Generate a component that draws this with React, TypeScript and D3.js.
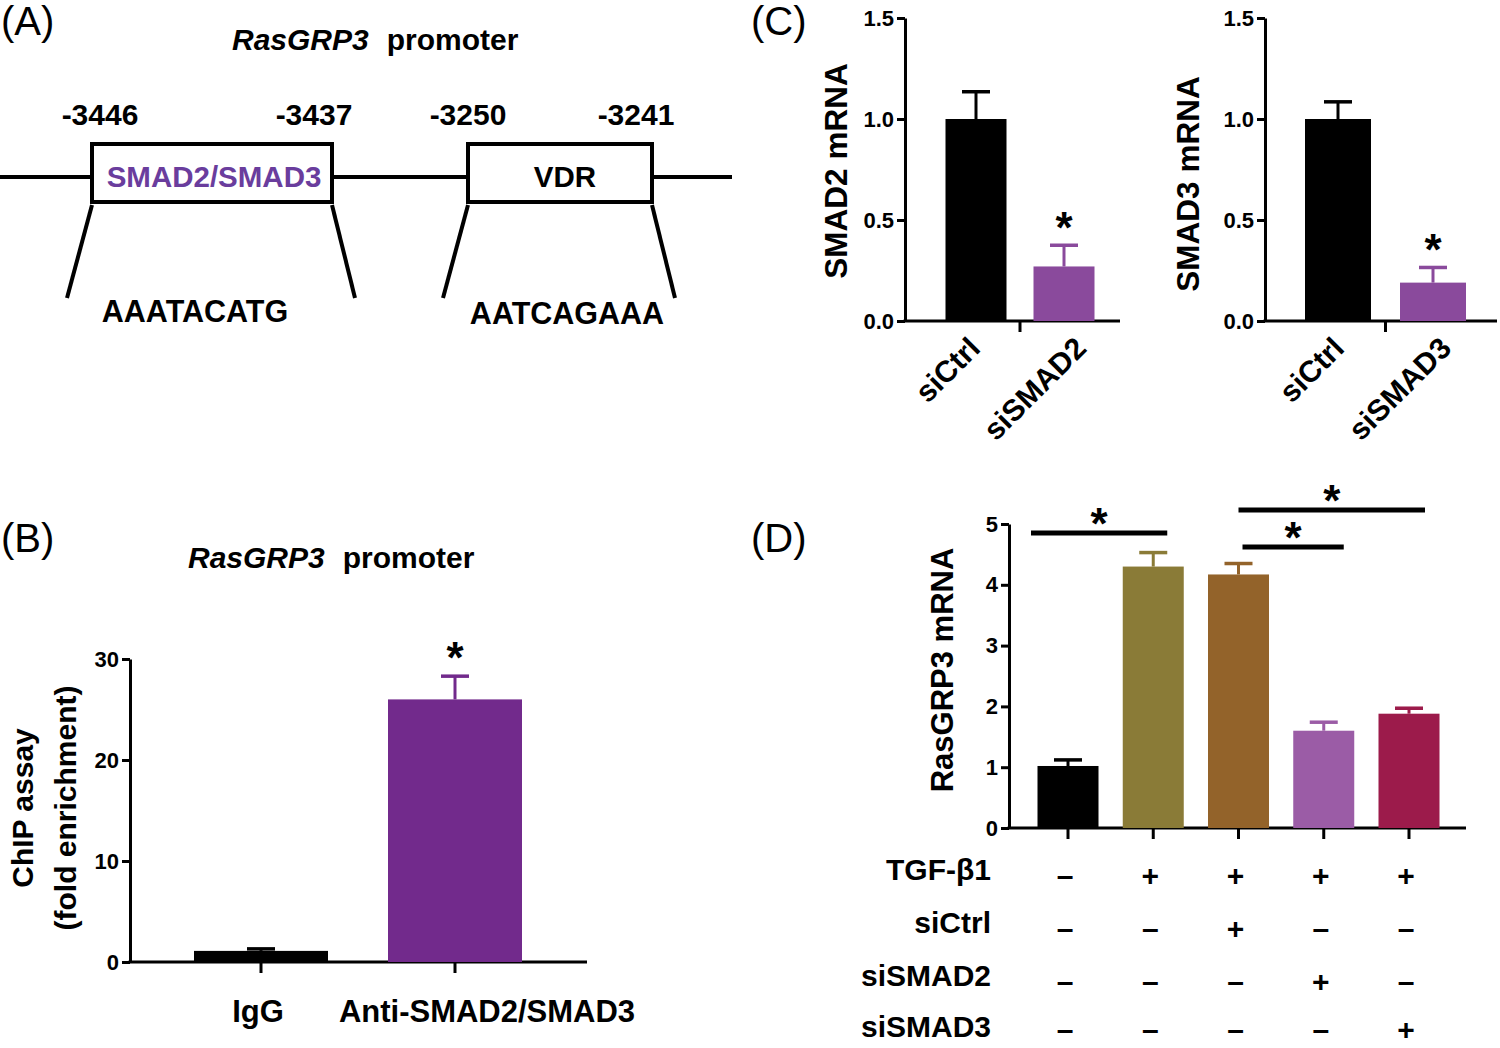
import { useEffect, useRef } from 'react'
import * as d3 from 'd3'

const FONT = "'Liberation Sans', Arial, Helvetica, sans-serif"

// (A) promoter map
const siteNames = ['SMAD2/SMAD3', 'VDR']
const siteStarts = ['-3446', '-3250']
const siteEnds = ['-3437', '-3241']
const siteSeqs = ['AAATACATG', 'AATCAGAAA']

// (B) ChIP assay
const chipCategories = ['IgG', 'Anti-SMAD2/SMAD3']
const chipValues = [1.1, 26.0]
const chipErrors = [0.2, 2.3]
const chipTicks = [0, 10, 20, 30]

// (C) knockdown efficiency
const smad2Categories = ['siCtrl', 'siSMAD2']
const smad2Values = [1.0, 0.27]
const smad2Errors = [0.135, 0.105]
const smad3Categories = ['siCtrl', 'siSMAD3']
const smad3Values = [1.0, 0.19]
const smad3Errors = [0.085, 0.075]
const knockdownTicks = [0, 0.5, 1.0, 1.5]

// (D) RasGRP3 expression
const rasGroups = ['ctrl', 'tgf', 'tgf_sictrl', 'tgf_sismad2', 'tgf_sismad3']
const rasValues = [1.02, 4.3, 4.17, 1.6, 1.88]
const rasErrors = [0.1, 0.23, 0.18, 0.14, 0.09]
const rasTicks = [0, 1, 2, 3, 4, 5]
const treatmentRows = ['TGF-β1', 'siCtrl', 'siSMAD2', 'siSMAD3']
const treatmentSigns = [
  ['–', '+', '+', '+', '+'],
  ['–', '–', '+', '–', '–'],
  ['–', '–', '–', '+', '–'],
  ['–', '–', '–', '–', '+'],
]
// significance brackets: [from bar, to bar, height]
const rasComparisons: [number, number, number][] = [
  [0, 1, 4.85],
  [2, 4, 5.23],
  [2, 3, 4.62],
]

type Sel = d3.Selection<any, unknown, null, undefined>

function label(g: Sel, x: number, y: number, s: string, size: number, anchor = 'middle', weight = 'bold') {
  return g.append('text')
    .attr('x', x).attr('y', y)
    .attr('font-family', FONT)
    .attr('font-size', size)
    .attr('font-weight', weight)
    .attr('text-anchor', anchor)
    .attr('fill', '#000')
    .text(s)
}

interface BarCfg {
  cats: string[]
  values: number[]
  errors: number[]
  colors: string[]
  centers: [number, number]
  barW: number
  yMax: number
  yRange: [number, number]
  ticks: number[]
  fmt: (d: number) => string
  axisX: number
  axisEnd: number
  midTick?: boolean
}

function barPanel(g: Sel, c: BarCfg) {
  const x = d3.scalePoint<string>().domain(c.cats).range(c.centers)
  const y = d3.scaleLinear().domain([0, c.yMax]).range(c.yRange)

  const ax = g.append('g')
    .attr('transform', `translate(${c.axisX},0)`)
    .call(d3.axisLeft(y).tickValues(c.ticks).tickFormat(d => c.fmt(+d)).tickSize(8).tickSizeOuter(0).tickPadding(3))
  ax.attr('font-family', FONT).attr('font-size', 22).attr('font-weight', 'bold')
  ax.select('.domain').attr('stroke-width', 3).attr('stroke', '#000')
  ax.selectAll('.tick line').attr('stroke-width', 3).attr('stroke', '#000')
  ax.selectAll('.tick text').attr('fill', '#000')

  const y0 = y(0)
  g.append('line')
    .attr('x1', c.axisX - 1.5).attr('x2', c.axisEnd)
    .attr('y1', y0).attr('y2', y0)
    .attr('stroke', '#000').attr('stroke-width', 3)

  const tickXs = c.midTick ? [d3.mean(c.cats, d => x(d)!)!] : c.cats.map(d => x(d)!)
  tickXs.forEach(tx => {
    g.append('line')
      .attr('x1', tx).attr('x2', tx)
      .attr('y1', y0).attr('y2', y0 + 11)
      .attr('stroke', '#000').attr('stroke-width', 3)
  })

  c.cats.forEach((cat, i) => {
    const cx = x(cat)!
    const v = c.values[i]
    const top = y(v + c.errors[i])
    g.append('line')
      .attr('x1', cx).attr('x2', cx)
      .attr('y1', y(v)).attr('y2', top)
      .attr('stroke', c.colors[i]).attr('stroke-width', 3)
    g.append('line')
      .attr('x1', cx - 14).attr('x2', cx + 14)
      .attr('y1', top).attr('y2', top)
      .attr('stroke', c.colors[i]).attr('stroke-width', 3.5)
    g.append('rect')
      .attr('x', cx - c.barW / 2).attr('y', y(v))
      .attr('width', c.barW).attr('height', y0 - y(v))
      .attr('fill', c.colors[i])
  })
  return { x, y }
}

function star(g: Sel, x: number, yCenter: number) {
  label(g, x, yCenter + 25, '*', 44)
}

function rotatedLabel(g: Sel, x: number, y: number, lines: string[], size: number, gap = 43) {
  lines.forEach((s, i) => {
    g.append('text')
      .attr('transform', `translate(${x + i * gap},${y}) rotate(-90)`)
      .attr('font-family', FONT)
      .attr('font-size', size)
      .attr('font-weight', 'bold')
      .attr('text-anchor', 'middle')
      .attr('fill', '#000')
      .text(s)
  })
}

function promoterTitle(g: Sel, x: number, y: number) {
  const t = g.append('text')
    .attr('x', x).attr('y', y)
    .attr('font-family', FONT).attr('font-size', 30).attr('font-weight', 'bold')
  t.append('tspan').attr('font-style', 'italic').text('RasGRP3')
  t.append('tspan').attr('dx', 18).text('promoter')
}

export default function App() {
  const svgRef = useRef<SVGSVGElement>(null)

  useEffect(() => {
    if (!svgRef.current) return
    const svg = d3.select(svgRef.current)
    svg.selectAll('*').remove()
    const root = svg.append('g') as Sel

    // panel letters
    label(root, 1, 35, '(A)', 40, 'start', 'normal')
    label(root, 1, 552, '(B)', 40, 'start', 'normal')
    label(root, 751, 35, '(C)', 40, 'start', 'normal')
    label(root, 751, 552, '(D)', 40, 'start', 'normal')

    // ---------- (A) ----------
    const a = root.append('g') as Sel
    promoterTitle(a, 232, 50)
    a.append('line')
      .attr('x1', 0).attr('x2', 732).attr('y1', 177).attr('y2', 177)
      .attr('stroke', '#000').attr('stroke-width', 4)
    const boxX = [92, 468]
    const boxW = [240, 184]
    const startX = [100, 468]
    const endX = [314, 636]
    const seqX = [195, 567]
    siteNames.forEach((name, i) => {
      const l = boxX[i]
      const r = boxX[i] + boxW[i]
      a.append('rect')
        .attr('x', l).attr('y', 144).attr('width', boxW[i]).attr('height', 58)
        .attr('fill', '#fff').attr('stroke', '#000').attr('stroke-width', 4)
      label(a, i === 0 ? (l + r) / 2 + 2 : (l + r) / 2 + 5, 187, name, 29.5)
        .attr('fill', i === 0 ? '#6a3d9d' : '#000')
      label(a, startX[i], 125, siteStarts[i], 30)
      label(a, endX[i], 125, siteEnds[i], 30)
      a.append('line')
        .attr('x1', l).attr('y1', 205).attr('x2', l - 25).attr('y2', 298)
        .attr('stroke', '#000').attr('stroke-width', 4)
      a.append('line')
        .attr('x1', r).attr('y1', 205).attr('x2', r + 23).attr('y2', 298)
        .attr('stroke', '#000').attr('stroke-width', 4)
      label(a, seqX[i], 322 + i * 2, siteSeqs[i], 30.5)
    })

    // ---------- (B) ----------
    const b = root.append('g') as Sel
    promoterTitle(b, 188, 568)
    const bs = barPanel(b, {
      cats: chipCategories,
      values: chipValues,
      errors: chipErrors,
      colors: ['#000000', '#722a8c'],
      centers: [261, 455],
      barW: 134,
      yMax: 30,
      yRange: [962, 659],
      ticks: chipTicks,
      fmt: d => d3.format('d')(d),
      axisX: 130,
      axisEnd: 587,
    })
    const chipLabelShift = [-3, 32]
    chipCategories.forEach((c, i) => label(b, bs.x(c)! + chipLabelShift[i], 1022, c, 31))
    star(b, bs.x(chipCategories[1])!, bs.y(chipValues[1] + chipErrors[1]) - 28)
    rotatedLabel(b, 33, 808, ['ChIP assay', '(fold enrichment)'], 30)

    // ---------- (C) ----------
    const c = root.append('g') as Sel
    const knockdownPanels = [
      { cats: smad2Categories, values: smad2Values, errors: smad2Errors, centers: [976, 1064] as [number, number], barW: 61, axisX: 905, axisEnd: 1120, title: 'SMAD2 mRNA', titleX: 847, titleY: 171, shift: [6, 24] },
      { cats: smad3Categories, values: smad3Values, errors: smad3Errors, centers: [1338, 1433] as [number, number], barW: 66, axisX: 1265, axisEnd: 1497, title: 'SMAD3 mRNA', titleX: 1199, titleY: 184, shift: [8, 20] },
    ]
    knockdownPanels.forEach(p => {
      const s = barPanel(c, {
        cats: p.cats,
        values: p.values,
        errors: p.errors,
        colors: ['#000000', '#8a4a9c'],
        centers: p.centers,
        barW: p.barW,
        yMax: 1.5,
        yRange: [321, 18],
        ticks: knockdownTicks,
        fmt: d => d3.format('.1f')(d),
        axisX: p.axisX,
        axisEnd: p.axisEnd,
        midTick: true,
      })
      p.cats.forEach((cat, i) => {
        c.append('text')
          .attr('transform', `translate(${s.x(cat)! + p.shift[i]},${350}) rotate(-45)`)
          .attr('font-family', FONT).attr('font-size', 30).attr('font-weight', 'bold')
          .attr('text-anchor', 'end').attr('fill', '#000')
          .text(cat)
      })
      star(c, s.x(p.cats[1])!, s.y(p.values[1] + p.errors[1]) - 27)
      rotatedLabel(c, p.titleX, p.titleY, [p.title], 31.5)
    })

    // ---------- (D) ----------
    const d = root.append('g') as Sel
    const ds = barPanel(d, {
      cats: rasGroups,
      values: rasValues,
      errors: rasErrors,
      colors: ['#000000', '#8a7b37', '#93632a', '#9b5ca6', '#9c1b4b'],
      centers: [1068, 1409],
      barW: 61,
      yMax: 5,
      yRange: [828, 524],
      ticks: rasTicks,
      fmt: v => d3.format('d')(v),
      axisX: 1009,
      axisEnd: 1466,
    })
    rotatedLabel(d, 953, 670, ['RasGRP3  mRNA'], 31)

    const bracketPad: [number, number][] = [[-37, 14], [0, 16], [4, 20]]
    rasComparisons.forEach(([from, to, h], i) => {
      const x1 = ds.x(rasGroups[from])! + bracketPad[i][0]
      const x2 = ds.x(rasGroups[to])! + bracketPad[i][1]
      const yy = ds.y(h)
      d.append('line')
        .attr('x1', x1).attr('x2', x2).attr('y1', yy).attr('y2', yy)
        .attr('stroke', '#000').attr('stroke-width', 5)
      star(d, (x1 + x2) / 2, yy - 19)
    })

    const rowBase = [880, 933, 986, 1037]
    treatmentRows.forEach((row, r) => {
      label(d, 991, rowBase[r], row, 30, 'end')
      treatmentSigns[r].forEach((s, k) => {
        label(d, ds.x(rasGroups[k])! - 3, rowBase[r] + (r === 3 ? 3 : 6), s, 30)
      })
    })
  }, [])

  return (
    <div style={{ position: 'absolute', left: 0, top: 0, background: '#fff' }}>
      <svg ref={svgRef} width={1500} height={1048} style={{ display: 'block' }} />
    </div>
  )
}
